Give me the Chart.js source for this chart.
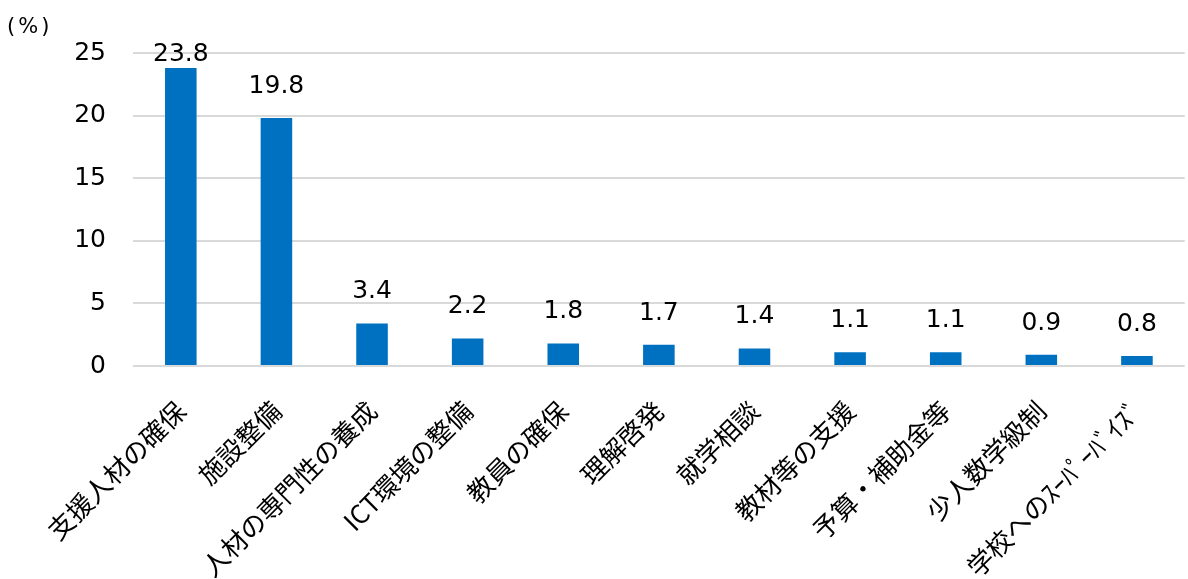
<!DOCTYPE html>
<html><head><meta charset="utf-8">
<script src="https://cdn.jsdelivr.net/npm/chart.js@4"></script>
<style>html,body{margin:0;padding:0;background:#fff}#wrap{width:1188px;height:579px;position:relative}</style>
</head><body><div id="wrap"><canvas id="c"></canvas></div>
<script>
const categories = ['支援人材の確保','施設整備','人材の専門性の養成','ICT環境の整備','教員の確保','理解啓発','就学相談','教材等の支援','予算・補助金等','少人数学級制','学校へのｽｰﾊﾟｰﾊﾞｲｽﾞ'];
const values = [23.8, 19.8, 3.4, 2.2, 1.8, 1.7, 1.4, 1.1, 1.1, 0.9, 0.8];
const yMin = 0, yMax = 25, yStep = 5;
const unitLabel = '(%)';

const valueLabels = {
  id: 'valueLabels',
  afterDatasetsDraw(chart) {
    const ctx = chart.ctx; const meta = chart.getDatasetMeta(0);
    ctx.save();
    ctx.font = '25px "DejaVu Sans"'; ctx.fillStyle = '#000';
    ctx.textAlign = 'center'; ctx.textBaseline = 'alphabetic';
    meta.data.forEach((bar, i) => {
      const y = Math.max(bar.y - 25, chart.chartArea.top + 8);
      ctx.fillText(values[i].toFixed(1), bar.x, y);
    });
    ctx.restore();
  },
  afterDraw(chart) {
    const ctx = chart.ctx;
    ctx.save();
    ctx.font = '21px "DejaVu Sans"'; ctx.fillStyle = '#000';
    ctx.letterSpacing = '3px';
    ctx.textAlign = 'left'; ctx.textBaseline = 'middle';
    ctx.fillText(unitLabel, 7, 28);
    ctx.restore();
  }
};

new Chart(document.getElementById('c'), {
  type: 'bar',
  data: { labels: categories, datasets: [{ data: values, backgroundColor: '#0070C0', borderWidth: 0, barPercentage: 0.33, categoryPercentage: 1 }] },
  options: {
    responsive: true, maintainAspectRatio: false, animation: false, devicePixelRatio: 1,
    layout: { padding: { top: 53, left: 0, right: 0, bottom: 0 } },
    plugins: { legend: { display: false }, tooltip: { enabled: false } },
    scales: {
      y: {
        min: yMin, max: yMax,
        ticks: { stepSize: yStep, font: { family: 'DejaVu Sans', size: 25 }, color: '#000', padding: 27 },
        grid: { color: '#d9d9d9', lineWidth: 2, drawTicks: false },
        border: { display: false },
        afterFit(s) { s.width = 133; }
      },
      x: {
        grid: { display: false, drawTicks: false },
        border: { display: false },
        ticks: { font: { family: 'Noto Sans CJK JP', size: 26 }, color: '#000', maxRotation: 45, minRotation: 45, autoSkip: false, padding: 29 },
        afterFit(s) { s.height = 213; }
      }
    }
  },
  plugins: [valueLabels]
});
</script></body></html>
